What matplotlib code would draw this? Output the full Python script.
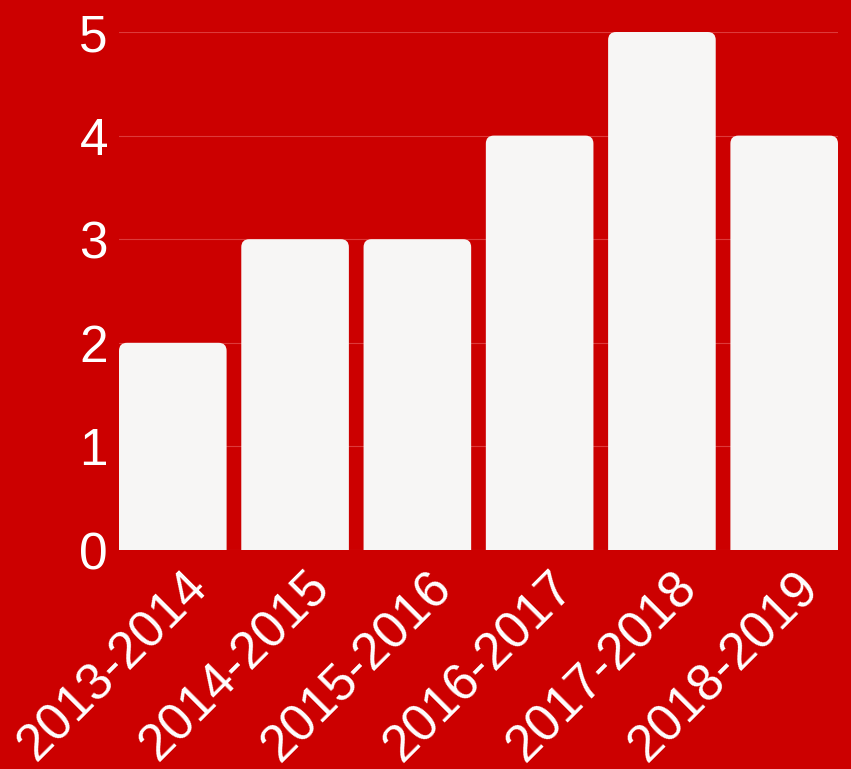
import matplotlib.pyplot as plt
import matplotlib.transforms as mtransforms
from matplotlib.patches import FancyBboxPatch

plt.rcParams['font.family'] = ['Liberation Sans', 'DejaVu Sans']

seasons = ['2013-2014', '2014-2015', '2015-2016', '2016-2017', '2017-2018', '2018-2019']
counts = [2, 3, 3, 4, 5, 4]

bg = '#cc0000'
bar_color = '#f7f6f5'

fig = plt.figure(figsize=(8.51, 7.69), dpi=100, facecolor=bg)
ax = fig.add_axes([119 / 851, 1 - 550 / 769, (838 - 119) / 851, (550 - 32) / 769])
ax.set_facecolor(bg)

width = 0.88
ax.set_xlim(-width / 2, len(seasons) - 1 + width / 2)
ax.set_ylim(0, 5)

# rounded tops: radius in x units, scaled for the y axis
px_x = 1 / 122.2
px_y = 5 / 518
aspect = px_y / px_x
r = 8 * px_x
for i, v in enumerate(counts):
    ax.add_patch(FancyBboxPatch((i - width / 2, -0.3), width, v + 0.3,
                                boxstyle=f"round,pad=0,rounding_size={r}",
                                mutation_aspect=aspect, fc=bar_color, ec='none', zorder=2))

ax.set_yticks(range(6))
ax.set_xticks(range(len(seasons)))
ax.set_xticklabels(seasons, rotation=45, ha='right', va='center', rotation_mode='anchor')
ax.tick_params(axis='both', length=0, colors='white', labelsize=37)
ax.tick_params(axis='y', pad=8)
ax.tick_params(axis='x', pad=18)
offset = mtransforms.ScaledTranslation(0.27, -0.05, fig.dpi_scale_trans)
for lab in ax.get_xticklabels():
    lab.set_transform(lab.get_transform() + offset)
ax.grid(axis='y', color='#dd3a3a', linewidth=0.8, zorder=0)
ax.set_axisbelow(True)
for s in ax.spines.values():
    s.set_visible(False)

fig.savefig('out.png', dpi=100, facecolor=bg)
